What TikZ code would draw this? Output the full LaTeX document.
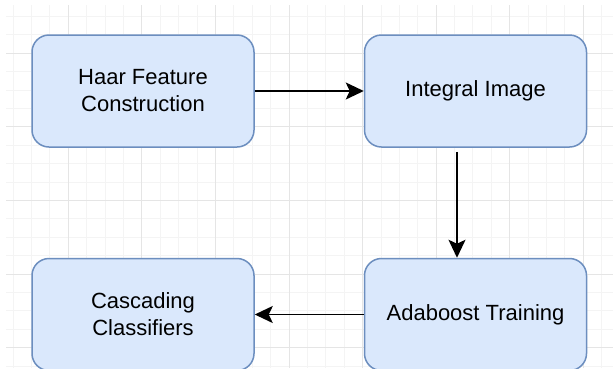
\documentclass[tikz,border=0pt]{standalone}
\usepackage{fontspec}
\setmainfont{Liberation Sans}
\usetikzlibrary{positioning,arrows.meta}
\definecolor{boxfill}{RGB}{218,232,252}
\definecolor{boxline}{RGB}{108,142,191}
\begin{document}
\begin{tikzpicture}[x=1pt,y=-1pt,
box/.style={draw=boxline,fill=boxfill,line width=1.5pt,rounded corners=17pt,
    minimum width=222pt,minimum height=112pt,align=center,
    font=\fontsize{22}{27}\selectfont},
link/.style={draw,line width=1.8pt,-{Stealth[length=18pt,width=17pt,inset=4pt]}},
minor/.style={draw=gray!9,line width=0.8pt},
major/.style={draw=gray!20,line width=0.8pt}]
\useasboundingbox (0,0) rectangle (613,368);
\fill[white] (0,0) rectangle (613,368);
\begin{scope}
\clip (6,5) rectangle (613,368);
\foreach \i in {0,...,33}
    \draw[minor] ({13.1+18.39*\i},0) -- ++(0,368);
\foreach \j in {0,...,19}
    \draw[minor] (0,{16.5+18.39*\j}) -- ++(613,0);
\foreach \k in {0,...,7}
    \draw[major] ({68.3+73.57*\k},0) -- ++(0,368);
\foreach \k in {0,...,4}
    \draw[major] (0,{53.3+73.57*\k}) -- ++(613,0);
\end{scope}
\node (haar) [box] at (143,91) {Haar Feature\\Construction};
\node (integral) [box,right=109pt of haar] {Integral Image};
\node (adaboost) [box,below=110pt of integral] {Adaboost Training};
\node (cascade) [box,left=109pt of adaboost] {Cascading\\Classifiers};
\draw[link] (haar) -- (integral);
\draw[link,shorten <=4pt] ([xshift=-18.5pt]integral.south) -- ([xshift=-18.5pt]adaboost.north);
\draw[link] (adaboost) -- (cascade);
\end{tikzpicture}
\end{document}
